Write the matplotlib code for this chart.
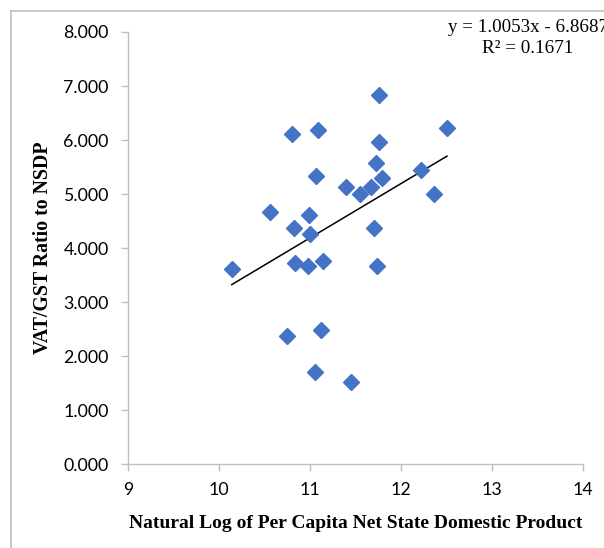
"""
Scatter of VAT/GST ratio to NSDP vs log per capita NSDP, with linear trend line
"""

import matplotlib
matplotlib.use("Agg")
import matplotlib.pyplot as plt
import numpy as np

# data
ln_nsdp = [11.76, 12.505, 10.805, 11.088, 11.755, 11.72, 11.07, 11.79, 12.22,
           11.40, 11.67, 11.55, 12.36, 10.56, 10.99, 10.82, 11.70, 11.00,
           10.84, 10.98, 11.14, 11.74, 10.14, 10.75, 11.12, 11.05, 11.45]
vat_ratio = [6.84, 6.23, 6.12, 6.18, 5.96, 5.585, 5.34, 5.30, 5.44,
             5.14, 5.14, 5.00, 5.005, 4.67, 4.62, 4.376, 4.376, 4.26,
             3.73, 3.67, 3.76, 3.67, 3.62, 2.38, 2.49, 1.70, 1.52]

# trend line as printed on chart
slope = 1.0053
intercept = -6.8687
r2 = 0.1671

x_ticks = [9, 10, 11, 12, 13, 14]
y_ticks = [0, 1, 2, 3, 4, 5, 6, 7, 8]

W, H = 604, 548
fig = plt.figure(figsize=(W/100, H/100), dpi=100)
ax = fig.add_axes([128/W, 1 - 464.3/H, (583 - 128)/W, (464.3 - 32)/H])

ax.plot(ln_nsdp, vat_ratio, linestyle='none', marker='D', ms=8.2,
        color='#4472C4', zorder=3)

xs = np.array([min(ln_nsdp), max(ln_nsdp)])
ax.plot(xs, intercept + slope*xs, color='black', lw=1.1, zorder=2)

ax.set_xlim(9, 14)
ax.set_ylim(0, 8)
ax.set_xticks(x_ticks)
ax.set_yticks(y_ticks)
ax.set_xticklabels([str(t) for t in x_ticks])
ax.set_yticklabels(['%.3f' % t for t in y_ticks])

for s in ['top', 'right']:
    ax.spines[s].set_visible(False)
for s in ['left', 'bottom']:
    ax.spines[s].set_color('#BFBFBF')
    ax.spines[s].set_linewidth(1.0)
ax.tick_params(axis='both', colors='#BFBFBF', length=5, width=1.0,
               labelcolor='black', labelsize=12.8)
ax.tick_params(axis='y', pad=9)
ax.tick_params(axis='x', pad=8)
for lab in ax.get_xticklabels() + ax.get_yticklabels():
    lab.set_family('Lato')

ax.set_xlabel('Natural Log of Per Capita Net State Domestic Product',
              family='Liberation Serif', weight='bold', fontsize=14, labelpad=12)
ax.set_ylabel('VAT/GST Ratio to NSDP',
              family='Liberation Serif', weight='bold', fontsize=14.3, labelpad=7)

# equation box is cut at the right edge in the original too
fig.text(528/W, 1 - 38/H, 'y = 1.0053x - 6.8687\nR\u00b2 = %.4f' % r2,
         ha='center', va='center', multialignment='center',
         family='Liberation Serif', fontsize=13.7, linespacing=1.25)

# outer chart border (cropped)
fig.add_artist(plt.Line2D([11/W, 1], [1 - 11/H, 1 - 11/H],
                          transform=fig.transFigure, color='#BFBFBF', lw=1.2))
fig.add_artist(plt.Line2D([11/W, 11/W], [0, 1 - 11/H],
                          transform=fig.transFigure, color='#BFBFBF', lw=1.2))

fig.savefig('out.png', dpi=100)
